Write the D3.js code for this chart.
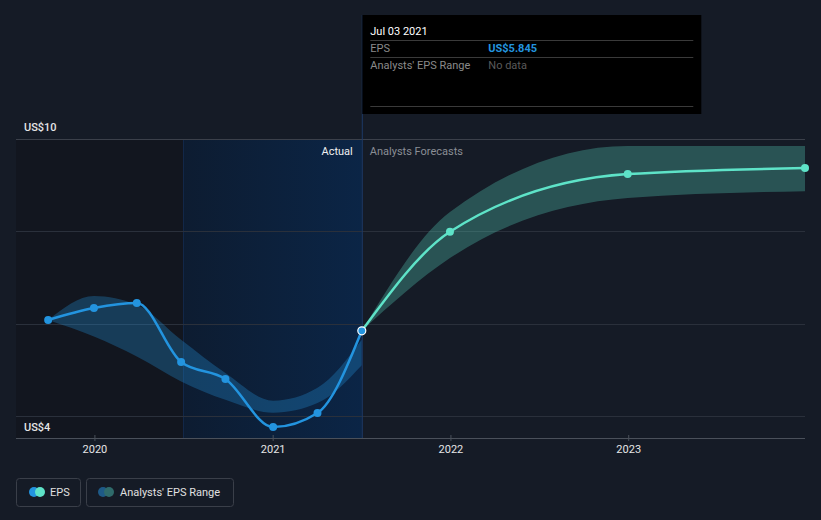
<!DOCTYPE html>
<html><head><meta charset="utf-8">
<script src="https://cdn.jsdelivr.net/npm/d3@7"></script>
<style>
html,body{margin:0;padding:0;background:#151b26;}
svg{display:block;font-family:Roboto,"Noto Sans",sans-serif;}
</style></head>
<body>
<svg id="c" width="821" height="520"></svg>
<script>
// ---- data ----
const actualDates = ["2019-09-28","2019-12-31","2020-03-28","2020-06-27","2020-09-26","2021-01-02","2021-04-03","2021-07-03"];
const actualEPS   = [6.08, 6.34, 6.45, 5.17, 4.80, 3.76, 4.065, 5.845];
const actualLow   = [6.08, 5.72, 5.29, 4.75, 4.35, 4.07, 4.28, 5.10];
const actualHigh  = [6.08, 6.60, 6.41, 5.65, 4.93, 4.33, 4.61, 5.65];
const forecastDates = ["2021-07-03","2021-12-31","2022-12-31","2023-12-30"];
const forecastEPS   = [5.845, 7.99, 9.24, 9.37];
const forecastLow   = [5.845, 7.42, 8.72, 8.87];
const forecastHigh  = [5.845, 8.42, 9.85, 9.85];
const yTickValues = [4, 10];
const yTickLabels = ["US$4", "US$10"];
const xTickYears = ["2020-01-01","2021-01-01","2022-01-01","2023-01-01"];
const pastYearStart = "2020-07-02";
const todayDate = "2021-07-03";
const tooltipDate = "Jul 03 2021";
const tooltipEPS = "US$5.845";

// ---- setup ----
const P = d3.timeParse("%Y-%m-%d");
const svg = d3.select("#c");
const x = d3.scaleTime().domain([P("2019-07-24"), P("2023-12-30")]).range([16, 805]);
const y = d3.scaleLinear().domain([4, 10]).range([416, 139]);
const plotTop = 139, plotBottom = 438;

const defs = svg.append("defs");
const g1 = defs.append("linearGradient").attr("id","pastGrad").attr("x1","0").attr("x2","1").attr("y1","0").attr("y2","0");
g1.append("stop").attr("offset","0").attr("stop-color","#0d1c31");
g1.append("stop").attr("offset","1").attr("stop-color","#0b2546");

// darker area before past year
svg.append("rect").attr("x", x.range()[0]).attr("y", plotTop)
  .attr("width", x(P(pastYearStart)) - x.range()[0]).attr("height", plotBottom - plotTop)
  .attr("fill", "#12161f");
// past year blue region
svg.append("rect").attr("x", x(P(pastYearStart))).attr("y", plotTop)
  .attr("width", x(P(todayDate)) - x(P(pastYearStart))).attr("height", plotBottom - plotTop)
  .attr("fill", "url(#pastGrad)");
svg.append("line").attr("x1", x(P(pastYearStart))).attr("x2", x(P(pastYearStart)))
  .attr("y1", plotTop).attr("y2", plotBottom).attr("stroke", "#13294a").attr("stroke-width", 1);

// gridlines
const grid = [4, 6, 8, 10];
svg.append("g").selectAll("line").data(grid).join("line")
  .attr("x1", 16).attr("x2", 805)
  .attr("y1", d => Math.round(y(d)) + 0.5).attr("y2", d => Math.round(y(d)) + 0.5)
  .attr("stroke", d => d === 10 ? "#3b404a" : "#2a303b").attr("stroke-width", 1);

// y labels (top label above its line, bottom label below its line)
svg.append("g").selectAll("text").data(yTickValues).join("text")
  .attr("x", 24).attr("y", d => d === 10 ? y(d) - 8 : y(d) + 15)
  .attr("fill", "#e6e6e6").attr("font-size", 11).attr("font-weight", 500)
  .text((d, i) => yTickLabels[i]);

// x axis
const xAxis = d3.axisBottom(x).tickValues(xTickYears.map(P)).tickFormat(d3.timeFormat("%Y")).tickSize(5).tickSizeOuter(0);
const ax = svg.append("g").attr("transform", `translate(0,${plotBottom})`).call(xAxis);
ax.select(".domain").attr("stroke", "#4a505a").attr("d", "M16,0.5H805");
ax.selectAll(".tick line").attr("stroke", "#4a505a").attr("y1", -3).attr("y2", 3);
ax.selectAll(".tick text").attr("fill", "#e6e6e6").attr("font-size", 11).attr("dy", "0.95em")
  .attr("font-family", "Roboto,sans-serif").attr("y", 5);

// bands
const curve = d3.curveMonotoneX;
const actualData = actualDates.map((d, i) => ({d: P(d), v: actualEPS[i], lo: actualLow[i], hi: actualHigh[i]}));
const fcData = forecastDates.map((d, i) => ({d: P(d), v: forecastEPS[i], lo: forecastLow[i], hi: forecastHigh[i]}));
const area = d3.area().x(p => x(p.d)).y0(p => y(p.lo)).y1(p => y(p.hi)).curve(curve);
svg.append("path").datum(actualData).attr("d", area).attr("fill", "#2394df").attr("fill-opacity", 0.3);
svg.append("path").datum(fcData).attr("d", area).attr("fill", "#58d6c0").attr("fill-opacity", 0.3);

// today line
svg.append("line").attr("x1", x(P(todayDate)) + 0.5).attr("x2", x(P(todayDate)) + 0.5)
  .attr("y1", 15).attr("y2", plotBottom).attr("stroke", "#1d3a66").attr("stroke-width", 1);

// labels
svg.append("text").attr("x", x(P(todayDate)) - 9).attr("y", 155).attr("text-anchor", "end")
  .attr("fill", "#f0f0f0").attr("font-size", 11).text("Actual");
svg.append("text").attr("x", x(P(todayDate)) + 8).attr("y", 155)
  .attr("fill", "#8a8e95").attr("font-size", 11).text("Analysts Forecasts");

// lines
const line = d3.line().x(p => x(p.d)).y(p => y(p.v)).curve(curve);
svg.append("path").datum(fcData).attr("d", line).attr("fill", "none").attr("stroke", "#5ee3c8").attr("stroke-width", 2.5);
svg.append("path").datum(actualData).attr("d", line).attr("fill", "none").attr("stroke", "#2394df").attr("stroke-width", 2.5);

svg.append("g").selectAll("circle").data(fcData.slice(1)).join("circle")
  .attr("cx", p => x(p.d)).attr("cy", p => y(p.v)).attr("r", 4).attr("fill", "#5ee3c8");
svg.append("g").selectAll("circle").data(actualData).join("circle")
  .attr("cx", p => x(p.d)).attr("cy", p => y(p.v)).attr("r", 4).attr("fill", "#2394df")
  .attr("stroke", (p, i) => i === actualData.length - 1 ? "#ffffff" : "none").attr("stroke-width", 1.2);

// tooltip
const tx = x(P(todayDate)) + 0.5;
const tt = svg.append("g");
tt.append("rect").attr("x", tx).attr("y", 15).attr("width", 339).attr("height", 99).attr("fill", "#000000");
[40, 57, 106].forEach(yy => tt.append("line").attr("x1", tx + 8).attr("x2", tx + 331)
  .attr("y1", yy + 0.5).attr("y2", yy + 0.5).attr("stroke", "#3a3a3a"));
tt.append("text").attr("x", tx + 8).attr("y", 35).attr("fill", "#ffffff").attr("font-size", 11).text(tooltipDate);
tt.append("text").attr("x", tx + 8).attr("y", 52).attr("fill", "#8a8a8a").attr("font-size", 11).text("EPS");
tt.append("text").attr("x", tx + 126).attr("y", 52).attr("fill", "#2394df").attr("font-size", 11).attr("font-weight", 700).text(tooltipEPS);
tt.append("text").attr("x", tx + 8).attr("y", 69).attr("fill", "#8a8a8a").attr("font-size", 11).text("Analysts' EPS Range");
tt.append("text").attr("x", tx + 126).attr("y", 69).attr("fill", "#5a5a5a").attr("font-size", 11).text("No data");

// legend
const lg = svg.append("g");
lg.append("rect").attr("x", 16.5).attr("y", 478.5).attr("width", 64).attr("height", 28).attr("rx", 3)
  .attr("fill", "none").attr("stroke", "#3a3f49");
lg.append("circle").attr("cx", 34).attr("cy", 492).attr("r", 5).attr("fill", "#2394df");
lg.append("circle").attr("cx", 40).attr("cy", 492).attr("r", 5).attr("fill", "#5ee3c8");
lg.append("text").attr("x", 50).attr("y", 496).attr("fill", "#e0e0e0").attr("font-size", 11).text("EPS");
lg.append("rect").attr("x", 86.5).attr("y", 478.5).attr("width", 147).attr("height", 28).attr("rx", 3)
  .attr("fill", "none").attr("stroke", "#3a3f49");
lg.append("circle").attr("cx", 103).attr("cy", 492).attr("r", 5).attr("fill", "#1e5a87");
lg.append("circle").attr("cx", 109).attr("cy", 492).attr("r", 5).attr("fill", "#2f6b6b");
lg.append("text").attr("x", 120).attr("y", 496).attr("fill", "#e0e0e0").attr("font-size", 11).text("Analysts' EPS Range");
</script>
</body></html>
